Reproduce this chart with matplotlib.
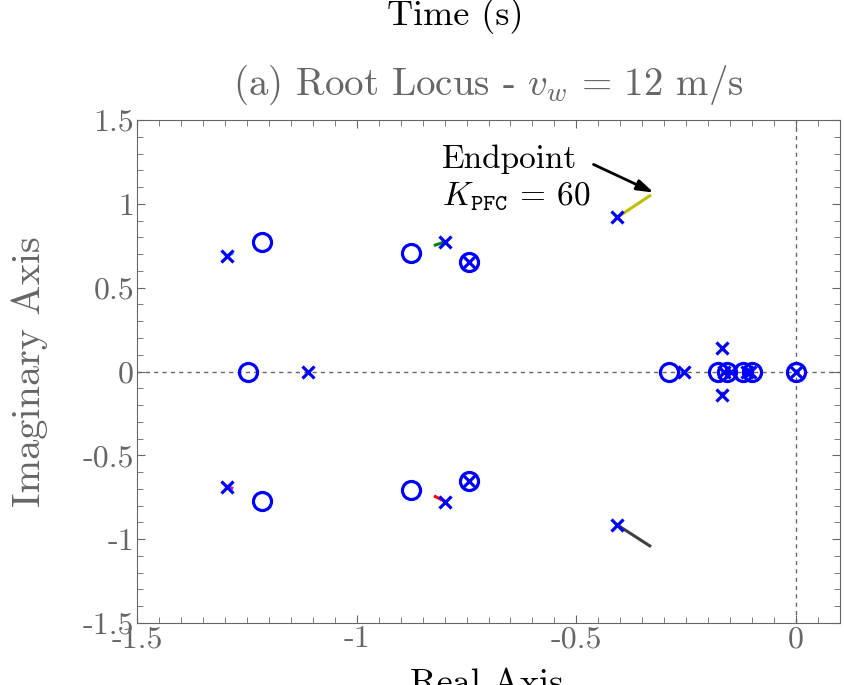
import matplotlib
matplotlib.use('Agg')
import matplotlib.pyplot as plt
from matplotlib.ticker import MultipleLocator, FuncFormatter

plt.rcParams['font.family'] = 'cmr10'
plt.rcParams['mathtext.fontset'] = 'cm'
plt.rcParams['axes.unicode_minus'] = False
plt.rcParams['axes.formatter.use_mathtext'] = True

GREY = '#666666'

# open-loop poles and zeros (real, imag)
pole_re = [-1.296, -1.296, -1.110, -0.798, -0.798, -0.745, -0.745, -0.407, -0.407,
           -0.254, -0.168, -0.168, -0.165, -0.148, -0.112, -0.104, 0.0]
pole_im = [0.689, -0.687, 0.0, 0.774, -0.776, 0.655, -0.653, 0.919, -0.915,
           0.0, 0.138, -0.140, 0.0, 0.0, 0.0, 0.0, 0.0]
zero_re = [-1.215, -1.215, -1.248, -0.877, -0.877, -0.745, -0.745, -0.290,
           -0.177, -0.157, -0.120, -0.100, 0.0]
zero_im = [0.774, -0.772, 0.0, 0.705, -0.707, 0.655, -0.653, 0.0,
           0.0, 0.0, 0.0, 0.0, 0.0]

# locus branches from K = 0 to K_PFC = 60
branch_re = [[-1.296, -1.284], [-1.296, -1.284], [-0.798, -0.821], [-0.798, -0.821],
             [-0.407, -0.333], [-0.407, -0.333], [-0.168, -0.167], [-0.168, -0.167]]
branch_im = [[0.689, 0.702], [-0.687, -0.695], [0.774, 0.754], [-0.776, -0.746],
             [0.919, 1.048], [-0.915, -1.040], [0.138, 0.128], [-0.140, -0.130]]
branch_col = ['#1fbfbf', '#bf1fbf', '#008000', '#ff0000',
              '#bfbf00', '#404040', '#bfbf00', '#404040']

fig = plt.figure(figsize=(8.44, 6.85), dpi=100)
ax = fig.add_axes([137/844, 1-623/685, 703/844, 503/685])

ax.axhline(0, color=GREY, ls=(0, (3, 3)), lw=1, zorder=0)
ax.axvline(0, color=GREY, ls=(0, (3, 3)), lw=1, zorder=0)

for bx, by, c in zip(branch_re, branch_im, branch_col):
    ax.plot(bx, by, color=c, lw=2.2, zorder=2)

ax.plot(zero_re, zero_im, 'o', ms=13, mfc='none', mec='#0000ff', mew=2.3, zorder=3)
ax.plot(pole_re, pole_im, 'x', ms=9, mec='#0000ff', mew=2.3, zorder=4)

ax.set_xlim(-1.5, 0.1)
ax.set_ylim(-1.5, 1.5)
ax.xaxis.set_major_locator(MultipleLocator(0.5))
ax.xaxis.set_minor_locator(MultipleLocator(0.05))
ax.yaxis.set_major_locator(MultipleLocator(0.5))
ax.yaxis.set_minor_locator(MultipleLocator(0.1))
fmt = FuncFormatter(lambda v, p: '%g' % round(v, 3))
ax.xaxis.set_major_formatter(fmt)
ax.yaxis.set_major_formatter(fmt)
ax.tick_params(which='both', direction='in', top=True, right=True,
               color=GREY, labelcolor=GREY, labelsize=23, pad=2)
ax.tick_params(which='major', length=6)
ax.tick_params(which='minor', length=4)
for s in ax.spines.values():
    s.set_color(GREY)

ax.set_ylabel('Imaginary Axis', fontsize=29, color=GREY)
ax.yaxis.set_label_coords((48 - 137) / 703, 0.5)

fig.text(488/844, 1-95/685, r'(a) Root Locus - $v_w \,=\, 12$ m/s', fontsize=28,
         color=GREY, ha='center', va='baseline')
fig.text(455/844, 1-25/685, 'Time (s)', fontsize=26, color='black',
         ha='center', va='baseline')
fig.text(487/844, 1-668/685, 'Real Axis', fontsize=26, color='black',
         ha='center', va='top')

ax.text(-0.805, 1.213, 'Endpoint', fontsize=24, ha='left', va='baseline')
ax.text(-0.805, 0.993, r'$K_{\mathtt{PFC}} \,=\, 60$', fontsize=24,
        ha='left', va='baseline')
ax.annotate('', xy=(-0.324, 1.067), xytext=(-0.461, 1.235),
            arrowprops=dict(arrowstyle='-|>,head_length=1.0,head_width=0.32',
                            color='black', lw=2, shrinkA=0, shrinkB=0))

fig.savefig('out.png', dpi=100)
